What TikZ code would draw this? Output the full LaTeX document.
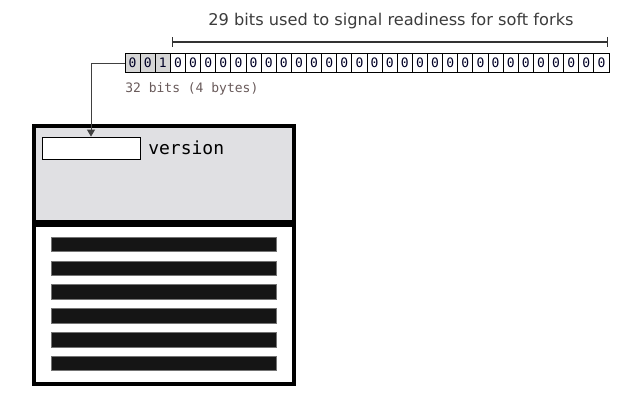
\documentclass[tikz,border=0pt]{standalone}
\usepackage{fontspec}
\setmainfont{DejaVu Sans}
\setmonofont{DejaVu Sans Mono}
\usepackage{tikz}
\usetikzlibrary{positioning,arrows.meta,calc}
\definecolor{hdrgray}{RGB}{224,224,227}
\definecolor{bitgray}{RGB}{214,214,214}
\definecolor{titlegray}{RGB}{60,60,60}
\definecolor{notegray}{RGB}{105,90,90}
\definecolor{bardark}{RGB}{21,21,21}

\begin{document}
\begin{tikzpicture}[x=1pt,y=-1pt,>={Triangle[length=7pt,width=8pt]},semithick]
            \tikzstyle{bit}=[draw=black,line width=0.8pt,minimum width=15.125pt,minimum height=19pt,inner sep=0pt,font=\ttfamily\fontsize{13}{13}\selectfont,text=black!85!blue]
            \tikzstyle{bar}=[fill=bardark,draw=black!55,line width=0.4pt]
            \useasboundingbox (0,0) rectangle (639,404);
            % bit field
            \foreach \i in {1,...,32} {
              \ifnum\i<4 \def\bitfill{bitgray}\else \def\bitfill{white}\fi
              \ifnum\i=3 \def\bitval{1}\else \def\bitval{0}\fi
              \node[bit,fill=\bitfill] (b\i) at ({125+15.125*(\i-0.5)},63) {\bitval};
            }
            \node[font=\ttfamily\fontsize{13}{13}\selectfont,text=notegray,anchor=west,inner sep=0pt] (size) at (125,89) {32 bits (4 bytes)};
            % bracket over the 29 bits
            \coordinate (bl) at (172,42);
            \coordinate (br) at (608,42);
            \draw[{Bar[width=10pt]}-{Bar[width=10pt]},line width=1.2pt,black!80] (bl) -- (br);
            \node[font=\fontsize{16.2}{16.2}\selectfont,text=titlegray] (title) at (391,21) {29 bits used to signal readiness for soft forks};
            % block header
            \draw[line width=3.5pt,fill=hdrgray] (34,126) rectangle (294,222);
            \draw[line width=3.5pt,fill=white] (34,225) rectangle (294,384);
            \node[draw=black,fill=white,line width=0.8pt,minimum width=98pt,minimum height=22pt,inner sep=0pt] (field) at (91,148) {};
            \node[font=\ttfamily\fontsize{18}{18}\selectfont,anchor=west,inner sep=0pt] (version) at (148,148) {version};
            \draw[->,black!75,line width=0.9pt] (b1.west) -| (field.north);
            % transactions
            \foreach \y in {0,...,5} {
              \draw[bar] (51,{237+23.8*\y}) rectangle (276.5,{251.5+23.8*\y});
            }
          \end{tikzpicture}
\end{document}
